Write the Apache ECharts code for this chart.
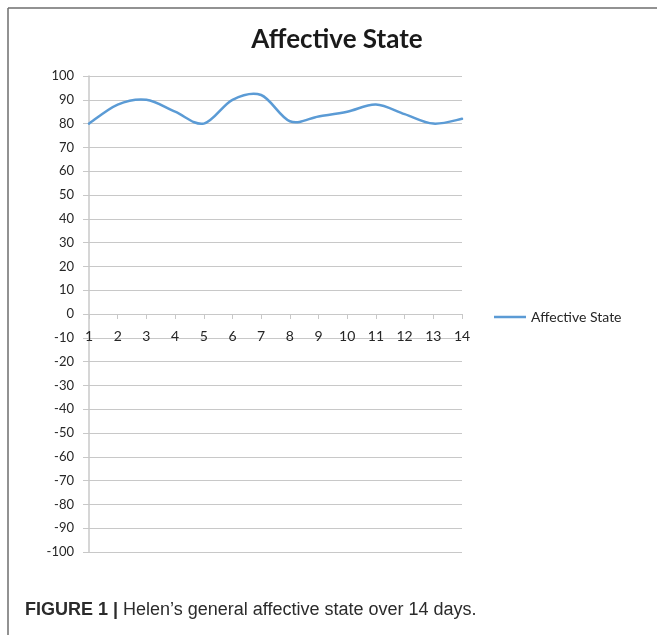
<!DOCTYPE html>
<html>
<head>
<meta charset="utf-8">
<script src="https://cdn.jsdelivr.net/npm/echarts@6/dist/echarts.min.js"></script>
<style>
  html, body { margin: 0; padding: 0; background: #fff; }
  #chart { width: 657px; height: 635px; }
</style>
</head>
<body>
<div id="chart"></div>
<script>
// Daily affective-state scores across a two-week period
const days = ['1','2','3','4','5','6','7','8','9','10','11','12','13','14'];
const affectiveState = [80, 88, 90, 85, 80, 90, 92, 81, 83, 85, 88, 84, 80, 82];
const seriesName = 'Affective State';
const chartTitle = 'Affective State';
const captionLabel = 'FIGURE 1 |';
const captionText = ' Helen\u2019s general affective state over 14 days.';

const chart = echarts.init(document.getElementById('chart'), null, { renderer: 'canvas' });

const font = 'Lato, "Open Sans", sans-serif';
const captionFont = '"Liberation Sans", Arial, sans-serif';
const gridColor = '#c8c8c8';
const lineColor = '#5b9bd5';

// Smooth curve through every point (Catmull-Rom segments as cubic Beziers),
// positioned with the chart's own axes.
function renderCurve(params, api) {
  if (params.dataIndex !== 0) return null;
  const pts = affectiveState.map((v, i) => api.coord([i, v]));
  const n = pts.length;
  let d = 'M' + pts[0][0] + ',' + pts[0][1];
  for (let i = 0; i < n - 1; i++) {
    const p0 = pts[Math.max(i - 1, 0)];
    const p1 = pts[i];
    const p2 = pts[i + 1];
    const p3 = pts[Math.min(i + 2, n - 1)];
    const c1x = p1[0] + (p2[0] - p0[0]) / 6;
    const c1y = p1[1] + (p2[1] - p0[1]) / 6;
    const c2x = p2[0] - (p3[0] - p1[0]) / 6;
    const c2y = p2[1] - (p3[1] - p1[1]) / 6;
    d += ' C' + c1x + ',' + c1y + ' ' + c2x + ',' + c2y + ' ' + p2[0] + ',' + p2[1];
  }
  return {
    type: 'path',
    shape: { pathData: d },
    style: { fill: 'none', stroke: lineColor, lineWidth: 2.5, lineJoin: 'round', lineCap: 'round' }
  };
}

chart.setOption({
  animation: false,
  backgroundColor: '#ffffff',
  textStyle: { fontFamily: font },
  title: {
    text: chartTitle,
    left: 332,
    top: 22,
    textAlign: 'center',
    textStyle: { fontFamily: font, fontWeight: 'bold', fontSize: 26, color: '#1a1a1a' }
  },
  legend: {
    data: [{ name: seriesName, icon: 'rect', itemStyle: { color: lineColor } }],
    left: 489,
    top: 305,
    itemWidth: 32,
    itemHeight: 2.5,
    itemGap: 3,
    textStyle: { fontFamily: font, fontSize: 14, color: '#262626' }
  },
  grid: { left: 89, right: 195, top: 76, bottom: 83, containLabel: false },
  xAxis: {
    type: 'category',
    data: days,
    boundaryGap: false,
    offset: -238,
    axisLine: { onZero: false, lineStyle: { color: gridColor, width: 1 } },
    axisTick: { show: true, length: 5, alignWithLabel: true, lineStyle: { color: gridColor } },
    axisLabel: { margin: 15, fontFamily: font, fontSize: 14, color: '#262626' },
    splitLine: { show: false }
  },
  yAxis: {
    type: 'value',
    min: -100,
    max: 100,
    interval: 10,
    axisLine: { show: true, lineStyle: { color: gridColor, width: 1.5 } },
    axisTick: { show: true, length: 6, lineStyle: { color: gridColor } },
    axisLabel: { margin: 15, fontFamily: font, fontSize: 13, color: '#262626' },
    splitLine: { show: true, lineStyle: { color: gridColor, width: 1 } }
  },
  series: [{
    name: seriesName,
    type: 'custom',
    data: affectiveState.map((v, i) => [i, v]),
    encode: { x: 0, y: 1 },
    itemStyle: { color: lineColor },
    renderItem: renderCurve,
    clip: false
  }],
  graphic: [
    { type: 'line', shape: { x1: 8, y1: 8, x2: 8, y2: 640 }, style: { stroke: '#6e6e6e', lineWidth: 1.5 } },
    { type: 'line', shape: { x1: 8, y1: 8, x2: 660, y2: 8 }, style: { stroke: '#6e6e6e', lineWidth: 1.5 } },
    {
      type: 'text',
      left: 25,
      top: 601,
      style: {
        text: '{b|' + captionLabel + '}{r|' + captionText + '}',
        rich: {
          b: { fontFamily: captionFont, fontWeight: 'bold', fontSize: 18, fill: '#2b2b2b' },
          r: { fontFamily: captionFont, fontSize: 18, fill: '#2b2b2b' }
        }
      }
    }
  ]
});
</script>
</body>
</html>
